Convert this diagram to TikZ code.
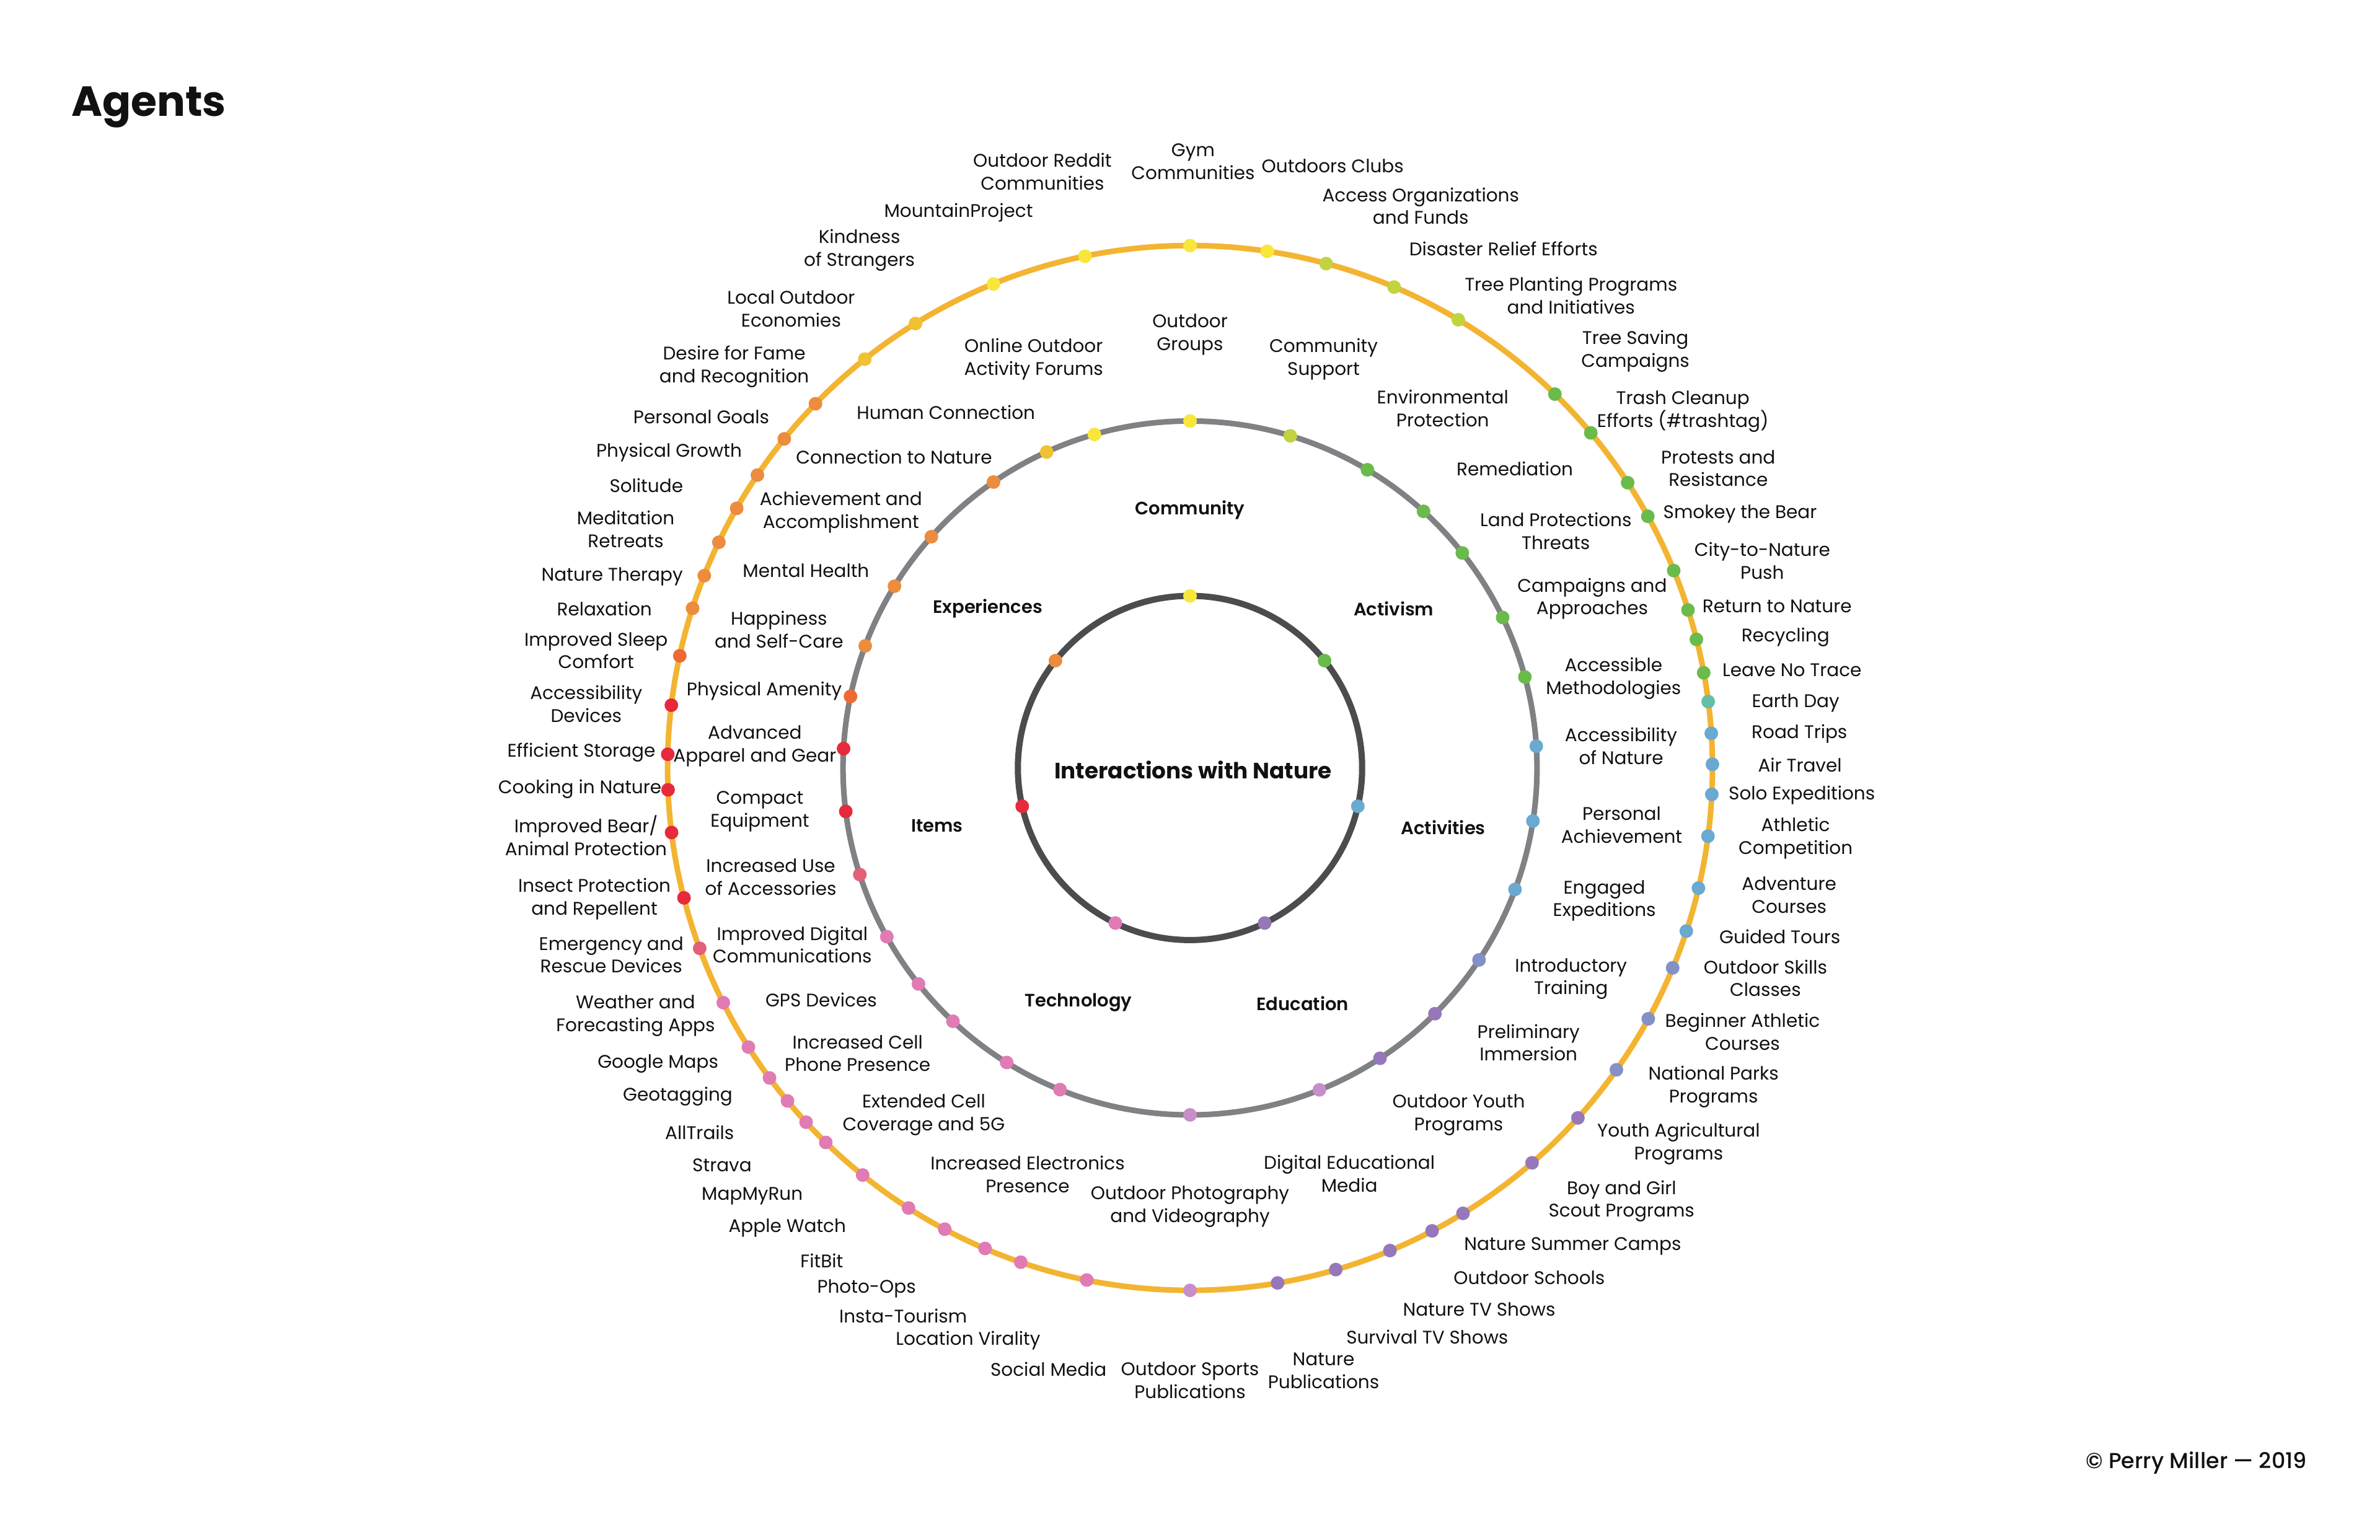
\documentclass[tikz,border=0pt]{standalone}
\usepackage{fontspec}
\setmainfont{Poppins}
\newfontfamily\semib{Poppins SemiBold}
\newfontfamily\pmed{Poppins Medium}
\definecolor{ringO}{HTML}{F3B431}
\definecolor{ringM}{HTML}{808184}
\definecolor{ringI}{HTML}{4B4C4E}
\definecolor{dY}{HTML}{F9E63B}
\definecolor{dGd}{HTML}{F0C233}
\definecolor{dL}{HTML}{C2D342}
\definecolor{dG}{HTML}{6ABB4B}
\definecolor{dT}{HTML}{66BEA6}
\definecolor{dB}{HTML}{6AA9D0}
\definecolor{dP}{HTML}{8391C7}
\definecolor{dV}{HTML}{9678BA}
\definecolor{dM}{HTML}{C78FC9}
\definecolor{dK}{HTML}{E07BB4}
\definecolor{dRR}{HTML}{E26078}
\definecolor{dR}{HTML}{E72A3B}
\definecolor{dDO}{HTML}{EE6A32}
\definecolor{dO}{HTML}{EC8C3F}
\definecolor{txt}{HTML}{111111}
\begin{document}
\begin{tikzpicture}[x=2.449pt,y=-2.449pt,
  lab/.style={font=\fontsize{29.5}{36.7}\selectfont,align=center,inner sep=0pt,text=txt},
  cat/.style={font=\semib\fontsize{29}{36}\selectfont,inner sep=0pt,text=txt}]
\useasboundingbox[fill=white] (0,0) rectangle (1568,1014.7);
\coordinate (C) at (784,506);
% rings
\draw[ringO,line width=9pt] (C) circle[radius=344.2];
\draw[ringM,line width=9pt] (C) circle[radius=228.6];
\draw[ringI,line width=10pt] (C) circle[radius=113.4];
% outer dots
\foreach \a/\c in {90/dY,81.5/dY,74.9/dL,67.0/dL,59.1/dL,45.7/dG,39.9/dG,33.1/dG,28.8/dG,22.2/dG,17.6/dG,14.25/dG,10.5/dG,7.3/dT,3.8/dB,0.4/dB,357.1/dB,352.5/dB,346.7/dB,341.8/dB,337.5/dP,331.3/dP,324.7/dP,317.94/dV,310.9/dV,301.5/dV,297.6/dV,292.5/dV,286.2/dV,279.65/dV,270/dM,258.6/dK,251.1/dK,246.9/dK,242.0/dK,237.4/dK,231.2/dK,225.8/dK,222.7/dK,219.6/dK,216.4/dK,212.3/dK,206.7/dK,200.2/dRR,194.4/dR,187.1/dR,182.4/dR,178.5/dR,173.1/dR,167.6/dDO,162.2/dO,158.4/dO,154.4/dO,150.2/dO,145.9/dO,140.95/dO,135.8/dO,128.5/dGd,121.7/dGd,112.1/dY,101.6/dY}
  {\fill[\c] (C) ++({-\a}:344.2) circle[radius=11pt];}
% middle dots
\foreach \a/\c in {90/dY,73.2/dL,59.25/dG,47.7/dG,38.3/dG,25.7/dG,15.2/dG,3.6/dB,351.2/dB,339.5/dB,326.4/dP,314.9/dV,303.2/dV,291.9/dM,270/dM,248.0/dK,238.1/dK,226.9/dK,218.5/dK,209.1/dK,197.9/dRR,187.2/dR,176.8/dR,168.1/dDO,159.4/dO,148.4/dO,138.2/dO,124.5/dO,114.4/dGd,106.0/dY}
  {\fill[\c] (C) ++({-\a}:228.6) circle[radius=11pt];}
% inner dots
\foreach \a/\c in {90/dY,38.57/dG,347.14/dB,295.71/dV,244.29/dK,192.86/dR,141.43/dO}
  {\fill[\c] (C) ++({-\a}:113.4) circle[radius=11pt];}
% title and credit
\node[font=\bfseries\fontsize{68}{76}\selectfont,anchor=base west,inner sep=0pt,text=txt] (title) at (47,76.5) {Agents};
\node[font=\pmed\fontsize{35}{40}\selectfont,inner sep=0pt,text=txt] (credit) at (1447,964) {© Perry Miller — 2019};
% centre
\node[font=\bfseries\fontsize{35.8}{42}\selectfont,inner sep=0pt,text=txt] (centre) at (786,507.4) {Interactions with Nature};
% inner categories
\node[cat] (i1) at (784,336) {Community};
\node[cat] (i2) at (918.2,401.1) {Activism};
\node[cat] (i3) at (950.9,545.1) {Activities};
\node[cat] (i4) at (858.2,661) {Education};
\node[cat] (i5) at (710.5,660.7) {Technology};
\node[cat] (i6) at (617.3,543.9) {Items};
\node[cat] (i7) at (650.7,401.1) {Experiences};
% middle labels
\node[lab] (m1) at (784,220.5) {Outdoor\\Groups};
\node[lab] (m2) at (872,236.7) {Community\\Support};
\node[lab] (m3) at (950.5,269) {Environmental\\Protection};
\node[lab] (m4) at (998,309) {Remediation};
\node[lab] (m5) at (1025,350) {Land Protections\\Threats};
\node[lab] (m6) at (1049,394.5) {Campaigns and\\Approaches};
\node[lab] (m7) at (1063,447) {Accessible\\Methodologies};
\node[lab] (m8) at (1068,491.5) {Accessibility\\of Nature};
\node[lab] (m9) at (1068.4,543.5) {Personal\\Achievement};
\node[lab] (m10) at (1057,593.5) {Engaged\\Expeditions};
\node[lab] (m11) at (1035,645) {Introductory\\Training};
\node[lab] (m12) at (1007,687) {Preliminary\\Immersion};
\node[lab] (m13) at (961,734.7) {Outdoor Youth\\Programs};
\node[lab] (m14) at (889,773.4) {Digital Educational\\Media};
\node[lab] (m15) at (784,795) {Outdoor Photography\\and Videography};
\node[lab] (m16) at (677,773.8) {Increased Electronics\\Presence};
\node[lab] (m17) at (608.6,734.7) {Extended Cell\\Coverage and 5G};
\node[lab] (m18) at (565,694) {Increased Cell\\Phone Presence};
\node[lab] (m19) at (541,659) {GPS Devices};
\node[lab] (m20) at (522,622.5) {Improved Digital\\Communications};
\node[lab] (m21) at (507.8,577.9) {Increased Use\\of Accessories};
\node[lab] (m22) at (500.6,534.8) {Compact\\Equipment};
\node[lab] (m23) at (497.3,491.5) {Advanced\\Apparel and Gear};
\node[lab] (m24) at (503.5,455.4) {Physical Amenity};
\node[lab] (m25) at (513.2,414.7) {Happiness\\and Self-Care};
\node[lab] (m26) at (531,376) {Mental Health};
\node[lab] (m27) at (554,337.5) {Achievement and\\Accomplishment};
\node[lab] (m28) at (589,301) {Connection to Nature};
\node[lab] (m29) at (623.2,271.8) {Human Connection};
\node[lab] (m30) at (681,236.6) {Online Outdoor\\Activity Forums};
% outer labels
\node[lab] (o1) at (786,106.6) {Gym\\Communities};
\node[lab] (o2) at (878,109.4) {Outdoors Clubs};
\node[lab] (o3) at (936,135.7) {Access Organizations\\and Funds};
\node[lab] (o4) at (990.5,163.7) {Disaster Relief Efforts};
\node[lab] (o5) at (1035,194.7) {Tree Planting Programs\\and Initiatives};
\node[lab] (o6) at (1077.4,231.3) {Tree Saving\\Campaigns};
\node[lab] (o7) at (1108.7,271.1) {Trash Cleanup\\Efforts (\#trashtag)};
\node[lab] (o8) at (1132,308.6) {Protests and\\Resistance};
\node[lab] (o9) at (1146.4,338.7) {Smokey the Bear};
\node[lab] (o10) at (1161,369.5) {City-to-Nature\\Push};
\node[lab] (o11) at (1170.8,399.5) {Return to Nature};
\node[lab] (o12) at (1176.3,419.9) {Recycling};
\node[lab] (o13) at (1180.6,441.4) {Leave No Trace};
\node[lab] (o14) at (1183,463.1) {Earth Day};
\node[lab] (o15) at (1185.5,483.7) {Road Trips};
\node[lab] (o16) at (1185.8,504.1) {Air Travel};
\node[lab] (o17) at (1187.1,523.8) {Solo Expeditions};
\node[lab] (o18) at (1183,552.4) {Athletic\\Competition};
\node[lab] (o19) at (1178.7,589.7) {Adventure\\Courses};
\node[lab] (o20) at (1172.6,617.3) {Guided Tours};
\node[lab] (o21) at (1163.1,644.5) {Outdoor Skills\\Classes};
\node[lab] (o22) at (1148,679.9) {Beginner Athletic\\Courses};
\node[lab] (o23) at (1128.9,716.2) {National Parks\\Programs};
\node[lab] (o24) at (1105.9,753.7) {Youth Agricultural\\Programs};
\node[lab] (o25) at (1068.3,791.4) {Boy and Girl\\Scout Programs};
\node[lab] (o26) at (1036.1,821.3) {Nature Summer Camps};
\node[lab] (o27) at (1007.5,842) {Outdoor Schools};
\node[lab] (o28) at (974.5,862.6) {Nature TV Shows};
\node[lab] (o29) at (940.3,880.8) {Survival TV Shows};
\node[lab] (o30) at (872,903.2) {Nature\\Publications};
\node[lab] (o31) at (784,909.5) {Outdoor Sports\\Publications};
\node[lab] (o32) at (690.8,902.2) {Social Media};
\node[lab] (o33) at (637.8,883.4) {Location Virality};
\node[lab] (o34) at (595,867) {Insta-Tourism};
\node[lab] (o35) at (570.9,849) {Photo-Ops};
\node[lab] (o36) at (541.4,830.8) {FitBit};
\node[lab] (o37) at (518.7,809) {Apple Watch};
\node[lab] (o38) at (495.6,788.2) {MapMyRun};
\node[lab] (o39) at (475.7,767.6) {Strava};
\node[lab] (o40) at (460.9,746.3) {AllTrails};
\node[lab] (o41) at (446.5,722.6) {Geotagging};
\node[lab] (o42) at (433.5,700.8) {Google Maps};
\node[lab] (o43) at (418.7,669.3) {Weather and\\Forecasting Apps};
\node[lab] (o44) at (402.7,629.1) {Emergency and\\Rescue Devices};
\node[lab] (o45) at (391.6,592.3) {Insect Protection\\and Repellent};
\node[lab] (o46) at (386.1,550.5) {Improved Bear/\\Animal Protection};
\node[lab] (o47) at (382,520) {Cooking in Nature};
\node[lab] (o48) at (383,496) {Efficient Storage};
\node[lab] (o49) at (386.2,463.8) {Accessibility\\Devices};
\node[lab] (o50) at (392.7,428.6) {Improved Sleep\\Comfort};
\node[lab] (o51) at (398.2,401.1) {Relaxation};
\node[lab] (o52) at (403.3,379.8) {Nature Therapy};
\node[lab] (o53) at (412.2,348.8) {Meditation\\Retreats};
\node[lab] (o54) at (425.8,320) {Solitude};
\node[lab] (o55) at (440.8,298) {Physical Growth};
\node[lab] (o56) at (462,274.8) {Personal Goals};
\node[lab] (o57) at (483.7,241.5) {Desire for Fame\\and Recognition};
\node[lab] (o58) at (521.2,203.3) {Local Outdoor\\Economies};
\node[lab] (o59) at (566.2,165) {Kindness\\of Strangers};
\node[lab] (o60) at (631.5,140) {MountainProject};
\node[lab] (o61) at (686.8,113) {Outdoor Reddit\\Communities};
\end{tikzpicture}
\end{document}
